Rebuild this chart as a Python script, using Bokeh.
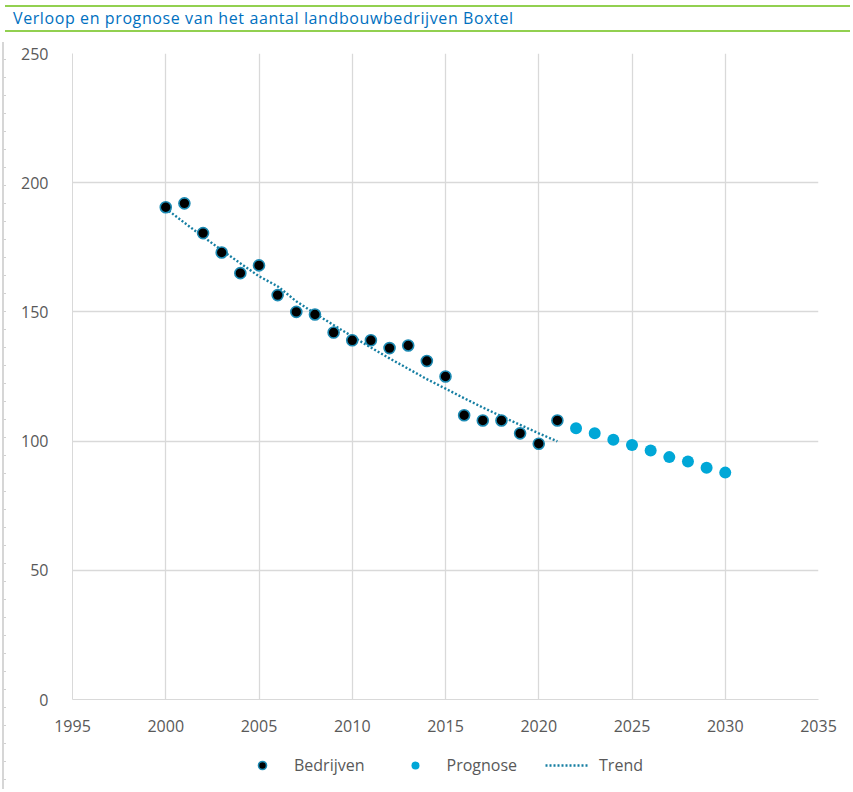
from bokeh.plotting import figure
from bokeh.models import Range1d, Div, Legend, LegendItem, FixedTicker
from bokeh.layouts import column, row
from bokeh.embed import file_html
from bokeh.resources import INLINE

# ---- data ----
years_obs = [2000, 2001, 2002, 2003, 2004, 2005, 2006, 2007, 2008, 2009, 2010,
             2011, 2012, 2013, 2014, 2015, 2016, 2017, 2018, 2019, 2020, 2021]
bedrijven = [190.5, 192, 180.5, 173, 165, 168, 156.5, 150, 149, 142, 139,
             139, 136, 137, 131, 125, 110, 108, 108, 103, 99, 108]

years_prog = [2022, 2023, 2024, 2025, 2026, 2027, 2028, 2029, 2030]
prognose = [105, 103, 100.5, 98.5, 96.4, 93.8, 92.1, 89.7, 87.8]

years_trend = [2000, 2001, 2002, 2003, 2004, 2005, 2006, 2007, 2008, 2009, 2010,
               2011, 2012, 2013, 2014, 2015, 2016, 2017, 2018, 2019, 2020, 2021]
trend = [190.0, 184.5, 179.1, 173.9, 168.8, 163.8, 159.9, 154.1, 149.4, 144.9, 140.5,
         136.2, 132.0, 128.0, 124.0, 120.3, 116.6, 113.0, 109.6, 106.3, 103.0, 99.9]

x_ticks = [1995, 2000, 2005, 2010, 2015, 2020, 2025, 2030, 2035]
y_ticks = [0, 50, 100, 150, 200, 250]
legend_labels = ["Bedrijven", "Prognose", "Trend"]

title_text = "Verloop en prognose van het aantal landbouwbedrijven Boxtel"

FONT = "Open Sans"
GRID = "#d9d9d9"
TXT = "#595959"
C_BED_LINE = "#1c8ab3"
C_PROG = "#00a7d7"
C_TREND = "#167fa3"

p = figure(width=833, height=707, output_backend="svg", toolbar_location=None,
           x_range=Range1d(1995, 2035), y_range=Range1d(0, 250),
           min_border_left=61, min_border_right=26, min_border_top=16, min_border_bottom=45)
p.outline_line_color = None
p.background_fill_color = "white"

for ax in (p.xaxis[0], p.yaxis[0]):
    ax.axis_line_color = GRID
    ax.major_tick_line_color = None
    ax.minor_tick_line_color = None
    ax.major_label_text_font = FONT
    ax.major_label_text_font_size = "16px"
    ax.major_label_text_color = TXT
p.xaxis[0].ticker = FixedTicker(ticks=x_ticks)
p.yaxis[0].ticker = FixedTicker(ticks=y_ticks)
p.xaxis[0].major_label_standoff = 14
p.yaxis[0].major_label_standoff = 18

p.xgrid[0].ticker = FixedTicker(ticks=x_ticks)
p.ygrid[0].ticker = FixedTicker(ticks=y_ticks)
p.xgrid.grid_line_color = GRID
p.ygrid.grid_line_color = GRID
p.xgrid.grid_line_width = 1.3
p.ygrid.grid_line_width = 1.3

p.line(years_trend, trend, line_color=C_TREND, line_width=2.4, line_dash="2 2")
p.scatter(years_obs, bedrijven, size=11, fill_color="black",
          line_color=C_BED_LINE, line_width=1.6)
p.scatter(years_prog, prognose, size=12, fill_color=C_PROG, line_color=None)

# legend strip below the chart: same series with the same styles, drawn on a
# strip whose ranges keep the marks themselves out of view (only the key shows)
lf = figure(width=833, height=40, output_backend="svg", toolbar_location=None,
            x_range=Range1d(0, 1), y_range=Range1d(0, 1), min_border=0)
lf.axis.visible = False
lf.grid.visible = False
lf.outline_line_color = None
lb = lf.scatter(years_obs, bedrijven, size=11, fill_color="black", line_color=C_BED_LINE, line_width=1.6)
lp = lf.scatter(years_prog, prognose, size=12, fill_color=C_PROG, line_color=None)
lt = lf.line(years_trend, trend, line_color=C_TREND, line_width=2.4, line_dash="2 2")
legend = Legend(items=[LegendItem(label=legend_labels[0], renderers=[lb]),
                       LegendItem(label=legend_labels[1], renderers=[lp]),
                       LegendItem(label=legend_labels[2], renderers=[lt])],
                orientation="horizontal", location=(168, 8),
                border_line_color=None, background_fill_alpha=0,
                label_text_font=FONT, label_text_font_size="16px", label_text_color=TXT,
                glyph_width=44, label_standoff=10, spacing=28, padding=4, margin=0)
lf.add_layout(legend, "center")

title = Div(text=title_text, width=837, height=23,
            styles={"border-top": "2px solid #92d050", "border-bottom": "2px solid #92d050",
                    "color": "#0070c0", "font-family": FONT, "font-size": "16px",
                    "letter-spacing": "0.6px", "padding-left": "8px", "line-height": "23px",
                    "box-sizing": "content-box"})

side = Div(text="", width=4, height=747,
           styles={"border-left": "2px solid #d6d6d6",
                   "background-image": "repeating-linear-gradient(to bottom, transparent 0px, transparent 17px, #d0d0d0 17px, #d0d0d0 18px)",
                   "background-size": "3px 100%", "background-repeat": "no-repeat",
                   "box-sizing": "border-box", "margin-left": "2px"})

layout = column(title, row(side, column(p, lf)))
open("out.html", "w").write(file_html(layout, INLINE))
